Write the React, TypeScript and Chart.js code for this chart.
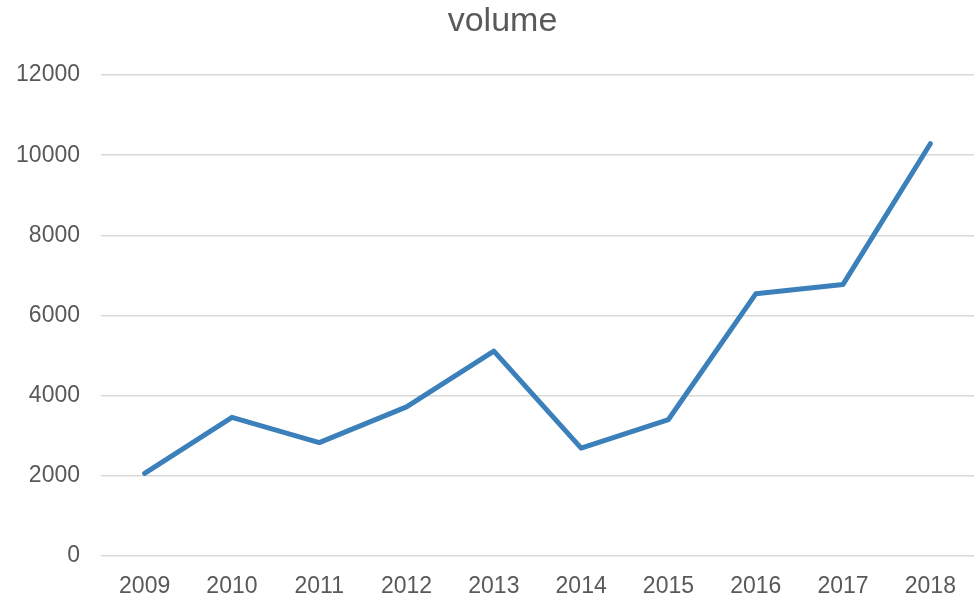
import React, { useEffect, useRef } from "react";
import { Chart, registerables } from "chart.js";

Chart.register(...registerables);

const chartTitle = "volume";
const years = ["2009", "2010", "2011", "2012", "2013", "2014", "2015", "2016", "2017", "2018"];
const volume = [2060, 3460, 2830, 3720, 5110, 2690, 3405, 6540, 6775, 10285];
const yTicks = [0, 2000, 4000, 6000, 8000, 10000, 12000];

const font = "'Liberation Sans', Arial, sans-serif";

const titlePlugin = {
  id: "offsetTitle",
  afterDraw(chart: any) {
    const ctx = chart.ctx;
    ctx.save();
    ctx.fillStyle = "#595959";
    ctx.font = `normal 34px ${font}`;
    ctx.textAlign = "center";
    ctx.textBaseline = "middle";
    ctx.fillText(chartTitle, 502.5, 21.4);
    ctx.restore();
  },
};

export default function App() {
  const ref = useRef<HTMLCanvasElement | null>(null);

  useEffect(() => {
    document.body.style.margin = "0";
    const canvas = ref.current;
    if (!canvas) return;
    const chart = new Chart(canvas, {
      type: "line",
      data: {
        labels: years,
        datasets: [
          {
            label: chartTitle,
            data: volume,
            borderColor: "#3B80BA",
            backgroundColor: "#3B80BA",
            borderWidth: 5,
            pointRadius: 0,
            pointHoverRadius: 0,
            tension: 0,
            borderJoinStyle: "round",
            borderCapStyle: "round",
            fill: false,
          },
        ],
      },
      plugins: [titlePlugin],
      options: {
        animation: false,
        responsive: false,
        maintainAspectRatio: false,
        devicePixelRatio: 1,
        layout: { padding: { left: 0, right: 0, top: 75, bottom: 0 } },
        plugins: {
          legend: { display: false },
          tooltip: { enabled: false },
          title: { display: false },
        },
        scales: {
          x: {
            type: "category",
            offset: true,
            grid: { display: false, drawTicks: false },
            border: { display: false },
            ticks: {
              color: "#595959",
              font: { family: font, size: 23 },
              padding: 17,
              maxRotation: 0,
              autoSkip: false,
            },
            afterFit: (scale: any) => {
              scale.height = 44;
            },
          },
          y: {
            min: 0,
            max: 12000,
            afterBuildTicks: (scale: any) => {
              scale.ticks = yTicks.map((v) => ({ value: v }));
            },
            grid: { color: "#D9D9D9", lineWidth: 1.5, drawTicks: false },
            border: { display: false },
            ticks: {
              color: "#595959",
              font: { family: font, size: 23 },
              padding: 21,
              callback: (v: any) => String(v),
            },
            afterFit: (scale: any) => {
              scale.width = 101;
            },
          },
        },
      },
    });
    return () => chart.destroy();
  }, []);

  return (
    <div style={{ position: "fixed", left: 0, top: 0, width: 974, height: 600 }}>
      <canvas ref={ref} width={974} height={600} style={{ width: 974, height: 600, display: "block" }} />
    </div>
  );
}
